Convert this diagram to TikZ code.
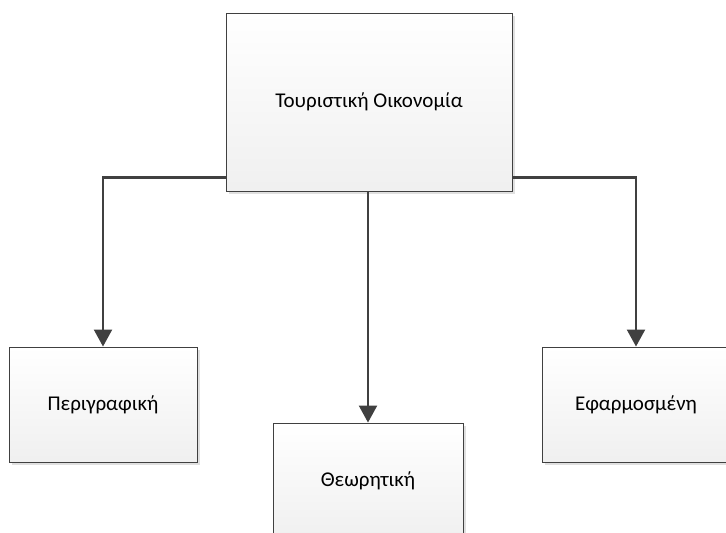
\documentclass[tikz,border=0pt]{standalone}
\usepackage{fontspec}
\setmainfont{Carlito}
\usetikzlibrary{arrows.meta,calc}
\begin{document}
\begin{tikzpicture}[x=1pt,y=-1pt,
  box/.style={draw=black!75, line width=0.9pt, top color=white, bottom color=black!6,
    inner sep=0pt, font=\fontsize{21}{25}\selectfont,
    preaction={fill=black!12, transform canvas={shift={(3pt,-3pt)}}}},
  conn/.style={draw=black!75, line width=2.2pt, -{Triangle[width=18pt,length=17pt]}}]
\useasboundingbox (0,0) rectangle (726,533);
\node[box, minimum width=286pt, minimum height=178pt] (top) at (369,102) {Τουριστική Οικονομία};
\node[box, minimum width=188pt, minimum height=115pt] (left) at (103,404.5) {Περιγραφική};
\node[box, minimum width=190pt, minimum height=115pt] (mid) at (368,480.5) {Θεωρητική};
\node[box, minimum width=188pt, minimum height=115pt] (right) at (636,404.5) {Εφαρμοσμένη};
\coordinate (lw) at ($(top.south west)+(0,-14)$);
\coordinate (rw) at ($(top.south east)+(0,-14)$);
\draw[conn] (lw) -| (left.north);
\draw[conn] (mid.north |- top.south) -- (mid.north);
\draw[conn] (rw) -| (right.north);
\end{tikzpicture}
\end{document}
